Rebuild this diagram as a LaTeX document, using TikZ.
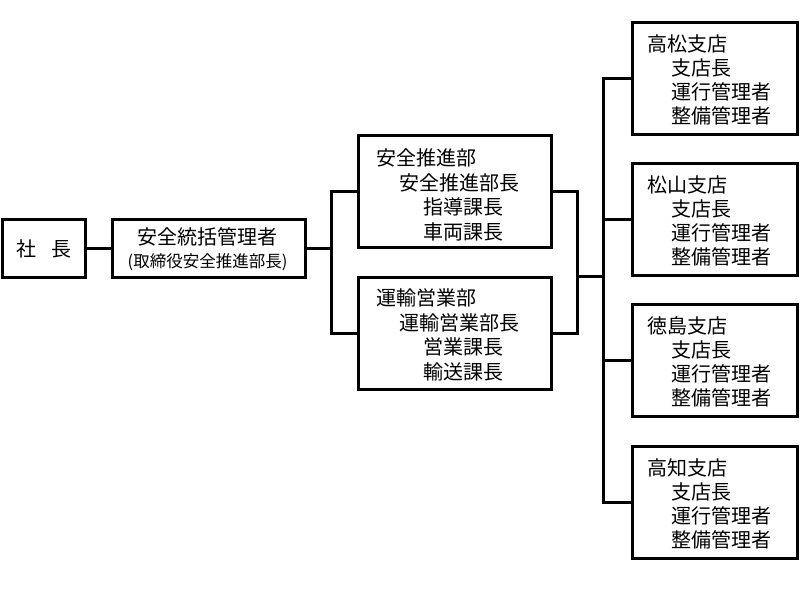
\documentclass[tikz,border=0pt]{standalone}
\usepackage{fontspec}
\setmainfont{Noto Sans CJK JP}
\usetikzlibrary{calc}
\begin{document}
\begin{tikzpicture}[x=1pt,y=-1pt,
  frame/.style={rectangle, inner sep=0pt, outer sep=0pt},
  topbox/.style={frame, minimum height=58pt},
  midbox/.style={frame, minimum width=193pt, minimum height=112pt},
  brbox/.style={frame, minimum width=165pt, minimum height=112pt},
  txt/.style={anchor=west, inner sep=0pt, font=\fontsize{20pt}{22pt}\selectfont},
  ctxt/.style={inner sep=0pt, font=\fontsize{20pt}{22pt}\selectfont},
  stxt/.style={inner sep=0pt, font=\fontsize{16.5pt}{18pt}\selectfont},
  conn/.style={draw=black, line width=3pt, line join=miter}]
\useasboundingbox (0,0) rectangle (800,600);
\fill[white] (0,0) rectangle (800,600);
% top level
\node[topbox, minimum width=83pt, font=\fontsize{20pt}{22pt}\selectfont] (sha) at (44,248.5) {社\hspace{15pt}長};
\node[topbox, minimum width=193pt] (ank) at (209,248.5) {};
\node[ctxt] (ank1) at (207,237) {安全統括管理者};
\node[stxt] (ank2) at (207.5,262) {(取締役安全推進部長)};
% middle
\node[midbox] (sui) at (455,191.5) {};
\node[txt] (sui1) at ($(sui.north west)+(18,22)$) {安全推進部};
\node[txt] (sui2) at ($(sui.north west)+(41,47)$) {安全推進部長};
\node[txt] (sui3) at ($(sui.north west)+(65,71)$) {指導課長};
\node[txt] (sui4) at ($(sui.north west)+(65,96)$) {車両課長};
\node[midbox] (unyu) at (455,333.5) {};
\node[txt] (unyu1) at ($(unyu.north west)+(18,20)$) {運輸営業部};
\node[txt] (unyu2) at ($(unyu.north west)+(41,45)$) {運輸営業部長};
\node[txt] (unyu3) at ($(unyu.north west)+(65,69)$) {営業課長};
\node[txt] (unyu4) at ($(unyu.north west)+(65,94)$) {輸送課長};
% junctions
\coordinate (j1) at (331.5,248.5);
\coordinate (j2) at (577.5,276.5);
\coordinate (j3) at (603.5,276.5);
% branches
\foreach \i/\nm/\yc in {1/高松支店/78.5, 2/松山支店/219.5, 3/徳島支店/360.5, 4/高知支店/502.5} {
  \node[brbox] (b\i) at (715,\yc) {};
  \node[txt] (b\i h) at ($(b\i.north west)+(15,21)$) {\nm};
  \node[txt] (b\i a) at ($(b\i.north west)+(39,45)$) {支店長};
  \node[txt] (b\i b) at ($(b\i.north west)+(39,69)$) {運行管理者};
  \node[txt] (b\i c) at ($(b\i.north west)+(39,93)$) {整備管理者};
}
% box outlines
\foreach \n in {sha,ank,sui,unyu,b1,b2,b3,b4}
  \draw[conn] (\n.north west) rectangle (\n.south east);
% connectors
\draw[conn] (sha) -- (ank);
\draw[conn] (ank.east) -- (j1);
\draw[conn] (sui.west) -| (j1) |- (unyu.west);
\draw[conn] (sui.east) -| (j2) |- (unyu.east);
\draw[conn] (j2) -- (j3);
\draw[conn] (b1.west) -| (j3) |- (b4.west);
\draw[conn] (j3) |- (b2.west);
\draw[conn] (j3) |- (b3.west);
\end{tikzpicture}
\end{document}
